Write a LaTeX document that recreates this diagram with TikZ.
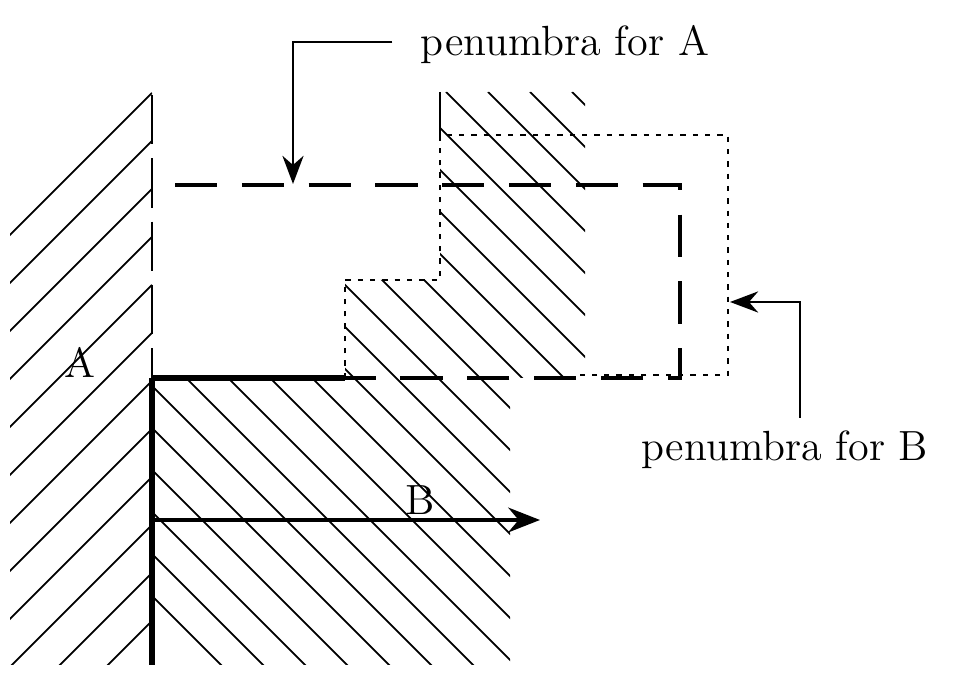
\documentclass[tikz,border=0pt]{standalone}
\usepackage{tikz}
\usetikzlibrary{arrows.meta,positioning}

\begin{document}
\begin{tikzpicture}[x=0.01cm,y=-0.01cm,
    hatch/.style={line width=0.5pt},
    wall/.style={line width=1.6pt},
    penA/.style={line width=0.9pt,dash pattern=on 12pt off 7pt},
    penB/.style={line width=0.7pt,dash pattern=on 1.5pt off 2pt},
    lead/.style={line width=0.8pt,-{Stealth[length=8pt,width=6pt]}},
    lbl/.style={font=\fontsize{12}{14}\selectfont,inner sep=0pt}]
  \useasboundingbox (0,0) rectangle (966,677);
  % hatching of A
  \begin{scope}
    \clip (10,92) rectangle (152,665);
    \foreach \k in {0,...,14}
      \draw[hatch] (152,{93+48*\k}) -- ++(-200,200);
  \end{scope}
  % hatching of B
  \begin{scope}
    \clip (152,665) -- (152,378) -- (345,378) -- (345,280) -- (440,280)
      -- (440,92) -- (585,92) -- (585,378) -- (510,378) -- (510,665) -- cycle;
    \foreach \k in {-12,...,12}
      \draw[hatch] ({152+42*\k},92) -- ++(600,600);
  \end{scope}
  % wall
  \coordinate (wtop) at (152,95);
  \coordinate (wmid) at (152,378);
  \coordinate (wbot) at (152,665);
  \draw[line width=0.8pt,dash pattern=on 14pt off 4pt] (wtop) -- (wmid);
  \draw[wall] (wmid) -- (wbot);
  \draw[wall] (wmid) -- (345,378);
  \draw[line width=0.7pt] (440,92) -- (440,135);
  % penumbra for A
  \coordinate (a1) at (175,185);
  \coordinate (a2) at (680,185);
  \coordinate (a3) at (680,378);
  \coordinate (a4) at (345,378);
  \draw[penA] (a1) -- (a2) -- (a3) -- (a4);
  % penumbra for B
  \draw[penB] (345,378) -- (345,280) -- (440,280) -- (440,135) -- (728,135)
    -- (728,375) -- (580,375);
  % labels
  \node[lbl] (tA) at (565,45) {penumbra for A};
  \node[lbl] (tB) at (785,450) {penumbra for B};
  \node[lbl] (lA) at (80,362) {A};
  \node[lbl] (lB) at (420,500) {B};
  \coordinate (pA) at (293,184);
  \coordinate (pB) at (730,302);
  \draw[lead] (tA.west) ++(-28,-3) -| (pA);
  \draw[lead] (800,418) |- (pB);
  \coordinate (bs) at (152,520);
  \coordinate (be) at (540,520);
  \draw[wall,line width=1.3pt,-{Stealth[length=9pt,width=7pt]}] (bs) -- (be);
\end{tikzpicture}
\end{document}
